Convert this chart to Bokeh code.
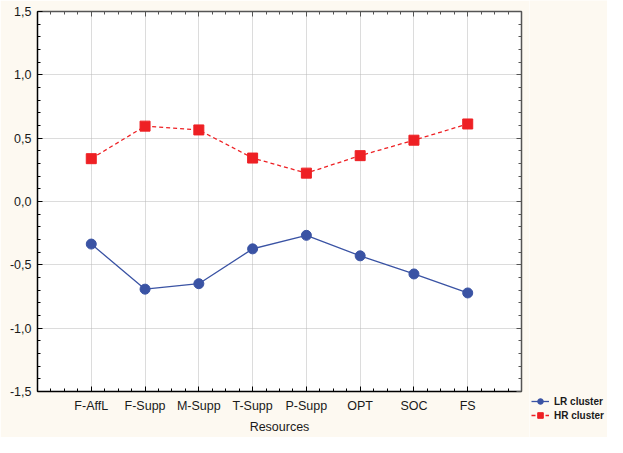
from bokeh.plotting import figure
from bokeh.layouts import row
from bokeh.models import (LinearAxis, FixedTicker, Range1d, Legend, LegendItem,
                          CustomJSTickFormatter, Grid)
from bokeh.embed import file_html
from bokeh.resources import INLINE

categories = ["F-AffL", "F-Supp", "M-Supp", "T-Supp", "P-Supp", "OPT", "SOC", "FS"]
lr_values = [-0.336, -0.692, -0.649, -0.374, -0.267, -0.429, -0.572, -0.722]
hr_values = [0.338, 0.595, 0.565, 0.343, 0.224, 0.362, 0.484, 0.612]
y_ticks = [-1.5, -1.0, -0.5, 0.0, 0.5, 1.0, 1.5]
series_names = ["LR cluster", "HR cluster"]

xs = list(range(1, len(categories) + 1))
FONT = "Liberation Sans"
BG = "#FDF9F1"
BLUE = "#3A53A4"
RED = "#EE2024"

p = figure(width=529, height=437, output_backend="svg",
           toolbar_location=None, x_range=Range1d(0, len(categories) + 1),
           y_range=Range1d(-1.5, 1.5), x_axis_location=None, y_axis_location=None,
           min_border_left=37, min_border_right=8, min_border_top=11,
           min_border_bottom=46, frame_align=False)
p.background_fill_color = "white"
p.border_fill_color = BG
p.outline_line_color = None

x_ticker = FixedTicker(ticks=xs, minor_ticks=[i * 0.25 for i in range(0, 4 * (len(categories) + 1) + 1)])
y_ticker = FixedTicker(ticks=y_ticks, minor_ticks=[round(-1.5 + 0.1 * i, 2) for i in range(31)])
y_fmt = CustomJSTickFormatter(code="return tick.toFixed(1).replace('.', ',');")
blank_fmt = CustomJSTickFormatter(code="return '';")


def style_axis(ax, color):
    ax.axis_line_color = color
    ax.axis_line_width = 1.5
    ax.major_tick_in = 5
    ax.major_tick_out = 0
    ax.minor_tick_in = 3
    ax.minor_tick_out = 0
    ax.major_tick_line_color = color
    ax.minor_tick_line_color = color
    ax.major_label_text_font = FONT
    ax.major_label_text_font_size = "12.5px"
    ax.major_label_text_color = "#1a1a1a"
    ax.axis_label_text_font = FONT
    ax.axis_label_text_font_size = "12.5px"
    ax.axis_label_text_font_style = "normal"
    ax.axis_label_text_color = "#1a1a1a"


bottom = LinearAxis(ticker=x_ticker, axis_label="Resources",
                    major_label_overrides={i: c for i, c in zip(xs, categories)})
style_axis(bottom, "black")
bottom.major_label_standoff = 7
bottom.axis_label_standoff = 4
p.add_layout(bottom, "below")

left = LinearAxis(ticker=y_ticker, formatter=y_fmt)
style_axis(left, "black")
left.major_label_standoff = 6
p.add_layout(left, "left")

top = LinearAxis(ticker=x_ticker, formatter=blank_fmt)
style_axis(top, "#555555")
top.major_label_standoff = 0
p.add_layout(top, "above")

right = LinearAxis(ticker=y_ticker, formatter=blank_fmt)
style_axis(right, "#555555")
right.major_label_standoff = 0
p.add_layout(right, "right")

p.xgrid.visible = False
p.ygrid.visible = False
gx = Grid(dimension=0, ticker=FixedTicker(ticks=xs), grid_line_color="#B8B8B8",
          grid_line_dash="1 1", grid_line_width=1)
gy = Grid(dimension=1, ticker=FixedTicker(ticks=y_ticks[1:-1]), grid_line_color="#B8B8B8",
          grid_line_dash="1 1", grid_line_width=1)
p.add_layout(gx)
p.add_layout(gy)

p.line(xs, lr_values, line_color=BLUE, line_width=1.3)
p.scatter(xs, lr_values, marker="circle", size=10, fill_color=BLUE, line_color=BLUE)
p.line(xs, hr_values, line_color=RED, line_width=1.3, line_dash="4 3")
p.scatter(xs, hr_values, marker="square", size=10, fill_color=RED, line_color=RED)

# Legend panel (separate figure whose ranges keep the sample glyphs out of view)
q = figure(width=78, height=437, output_backend="svg", toolbar_location=None,
           x_range=Range1d(100, 101), y_range=Range1d(100, 101),
           x_axis_location=None, y_axis_location=None, frame_align=False,
           min_border_left=0, min_border_right=0, min_border_top=0, min_border_bottom=0)
q.background_fill_color = BG
q.border_fill_color = BG
q.outline_line_color = None
q.xgrid.visible = False
q.ygrid.visible = False
ql1 = q.line(xs, lr_values, line_color=BLUE, line_width=1.3)
qs1 = q.scatter(xs, lr_values, marker="circle", size=10, fill_color=BLUE, line_color=BLUE)
ql2 = q.line(xs, hr_values, line_color=RED, line_width=1.3, line_dash="4 3")
qs2 = q.scatter(xs, hr_values, marker="square", size=10, fill_color=RED, line_color=RED)

legend = Legend(items=[LegendItem(label=series_names[0], renderers=[ql1, qs1]),
                       LegendItem(label=series_names[1], renderers=[ql2, qs2])],
                location=(2, 15))
legend.background_fill_alpha = 0
legend.border_line_color = None
legend.padding = 0
legend.margin = 0
legend.spacing = 0
legend.glyph_width = 18
legend.glyph_height = 14
legend.label_height = 14
legend.label_standoff = 5
legend.label_text_font = FONT
legend.label_text_font_size = "10px"
legend.label_text_font_style = "bold"
legend.label_text_color = "#1a1a1a"
q.add_layout(legend, "center")

layout = row(p, q, spacing=0)
open("out.html", "w").write(file_html(layout, INLINE))
